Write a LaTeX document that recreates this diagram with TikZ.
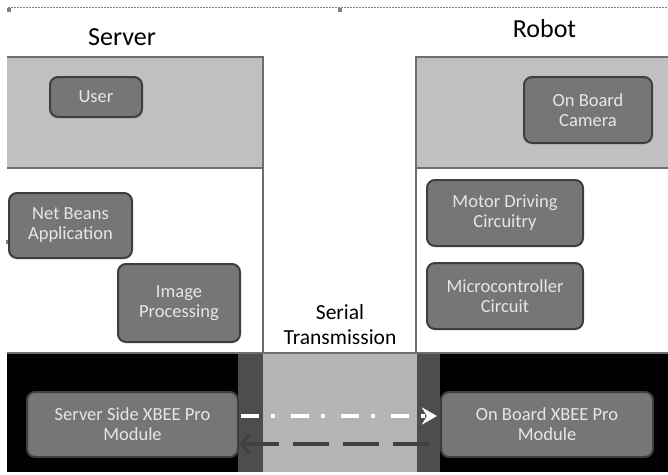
\documentclass[tikz,border=0pt]{standalone}
\usepackage{fontspec}
\setmainfont{Carlito}
\usetikzlibrary{arrows.meta}
\definecolor{panelgray}{HTML}{C0C0C0}
\definecolor{paneledge}{HTML}{6E6E6E}
\definecolor{boxfill}{HTML}{767676}
\definecolor{boxedge}{HTML}{3E3E3E}
\definecolor{boxtext}{HTML}{E6E6E6}
\definecolor{midgray}{HTML}{B4B4B4}
\definecolor{stripe}{HTML}{4D4D4D}
\definecolor{handle}{HTML}{808080}
\definecolor{darkarrow}{HTML}{404040}
\begin{document}
\begin{tikzpicture}[x=1pt,y=-1pt,
  box/.style={draw=boxedge, line width=2pt, fill=boxfill, rounded corners=8pt,
    text=boxtext, font=\fontsize{18.5}{20}\selectfont, align=center, inner sep=0pt},
  title/.style={font=\fontsize{26}{30}\selectfont, anchor=base, inner sep=0pt},
  panelline/.style={draw=paneledge, line width=1.5pt},
  sendarrow/.style={draw=white, line width=4pt, dash pattern=on 18pt off 12pt on 4pt off 16pt,
    -{Stealth[length=15pt,width=17pt]}},
  backarrow/.style={draw=darkarrow, line width=4pt, dash pattern=on 36pt off 14pt,
    {Straight Barb[length=9pt,width=20pt,line width=3pt]}-}
]
\useasboundingbox (0,0) rectangle (668,474);
\fill[white] (0,0) rectangle (668,474);
% top dashed selection line and handles
\draw[handle, line width=0.6pt, dash pattern=on 2pt off 1pt] (8,7) -- (668,7);
\fill[handle] (7,8) rectangle (11,12);
\fill[handle] (338,8) rectangle (342,12);
\fill[handle] (6,240) rectangle (9,244);
% panels
\fill[panelgray] (7,57) rectangle (263,168);
\fill[panelgray] (416,57) rectangle (668,168);
\draw[panelline] (7,57) -- (263,57) -- (263,353);
\draw[panelline] (7,168) -- (263,168);
\draw[panelline] (668,57) -- (416,57) -- (416,353);
\draw[panelline] (416,168) -- (668,168);
% bottom band
\fill[black] (7,353) rectangle (668,472);
\fill[midgray] (263,353) rectangle (417,472);
\fill[stripe] (238,353) rectangle (263,472);
\fill[stripe] (417,353) rectangle (440,472);
\draw[panelline] (7,353) -- (668,353);
% titles
\node[title] (server) at (122,45) {Server};
\node[title] (robot) at (544.5,37) {Robot};
\node[font=\fontsize{21.5}{25}\selectfont, align=center, inner sep=0pt] (serial) at (340,325) {Serial\\Transmission};
% boxes
\node[box, minimum width=92pt, minimum height=40pt] (user) at (96,97) {User};
\node[box, minimum width=128pt, minimum height=66pt] (cam) at (588,110) {On Board\\Camera};
\node[box, minimum width=123pt, minimum height=65pt] (net) at (70.5,225.5) {Net Beans\\Application};
\node[box, minimum width=122pt, minimum height=78pt] (img) at (179,303) {Image\\Processing};
\node[box, minimum width=156pt, minimum height=66pt] (motor) at (505,213) {Motor Driving\\Circuitry};
\node[box, minimum width=156pt, minimum height=66pt] (micro) at (505,296) {Microcontroller\\Circuit};
\node[box, minimum width=211pt, minimum height=65pt] (sx) at (132.5,424.5) {Server Side XBEE Pro\\Module};
\node[box, minimum width=212pt, minimum height=65pt] (rx) at (547,424.5) {On Board XBEE Pro\\Module};
% arrows
\draw[sendarrow] ([xshift=2pt,yshift=8.5pt]sx.east) -- ([xshift=-3pt,yshift=8.5pt]rx.west);
\draw[backarrow] ([yshift=-19.5pt]sx.east) -- ([xshift=-1pt,yshift=-19.5pt]rx.west);
\end{tikzpicture}
\end{document}
